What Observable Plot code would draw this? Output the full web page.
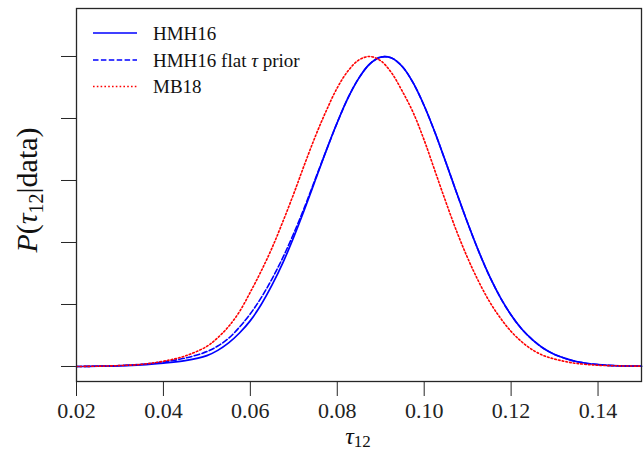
<!DOCTYPE html>
<html>
<head>
<meta charset="utf-8">
<script src="https://cdn.jsdelivr.net/npm/d3@7"></script>
<script src="https://cdn.jsdelivr.net/npm/@observablehq/plot@0.6"></script>
<style>
  html, body { margin: 0; padding: 0; background: #fff; }
  #chart { position: relative; width: 644px; height: 451px; }
</style>
</head>
<body>
<div id="chart"></div>
<script>
// ---- data ----
const tau = [0.020,0.025,0.030,0.035,0.040,0.045,0.050,0.0525,0.055,0.0575,0.060,0.0625,0.065,0.0675,0.070,0.0725,0.075,0.0775,0.080,0.0825,0.085,0.0875,0.090,0.0925,0.095,0.0975,0.100,0.1025,0.105,0.1075,0.110,0.1125,0.115,0.1175,0.120,0.1225,0.125,0.1275,0.130,0.1325,0.135,0.140,0.145,0.150];
const hmh16 = [0.000,0.001,0.002,0.005,0.011,0.019,0.035,0.052,0.076,0.108,0.148,0.200,0.263,0.335,0.418,0.508,0.603,0.698,0.787,0.867,0.931,0.976,0.998,0.995,0.967,0.914,0.841,0.754,0.658,0.559,0.463,0.373,0.292,0.223,0.166,0.120,0.085,0.058,0.039,0.026,0.016,0.006,0.002,0.001];
const hmh16Flat = [0.000,0.001,0.003,0.007,0.015,0.027,0.048,0.066,0.091,0.127,0.170,0.222,0.283,0.352,0.430,0.515,0.607,0.698,0.787,0.867,0.931,0.976,0.998,0.995,0.967,0.914,0.841,0.754,0.658,0.559,0.463,0.373,0.292,0.223,0.166,0.120,0.085,0.058,0.039,0.026,0.016,0.006,0.002,0.001];
const mb18 = [0.000,0.001,0.003,0.007,0.017,0.034,0.065,0.093,0.129,0.177,0.240,0.308,0.383,0.468,0.558,0.653,0.744,0.826,0.899,0.954,0.989,1.000,0.986,0.947,0.887,0.818,0.730,0.630,0.530,0.435,0.350,0.275,0.210,0.157,0.113,0.079,0.053,0.035,0.024,0.016,0.010,0.004,0.002,0.001];
const xTicks = [0.02,0.04,0.06,0.08,0.10,0.12,0.14];
const yTicks = [0,0.2,0.4,0.6,0.8,1.0];
const seriesNames = ["HMH16", "HMH16 flat τ prior", "MB18"];

const mk = (vals) => tau.map((t, i) => ({t, v: vals[i]}));
const dSolid = mk(hmh16), dFlat = mk(hmh16Flat), dMB = mk(mb18);

const FONT = "'Liberation Serif', 'DejaVu Serif', serif";
const BLUE = "#0000ff", RED = "#ff0000", INK = "#262626";

const plot = Plot.plot({
  width: 644,
  height: 451,
  marginLeft: 76,
  marginRight: 3,
  marginTop: 8,
  marginBottom: 70,
  style: {fontFamily: FONT, background: "#fff", overflow: "visible"},
  x: {domain: [0.02, 0.15]},
  y: {domain: [-0.0484, 1.1548]},
  marks: [
    Plot.axisX({ticks: xTicks, tickSize: 15, tickPadding: 6, fontSize: 22, tickFormat: d3.format(".2f"), label: null, stroke: INK, color: "#222"}),
    Plot.axisY({ticks: yTicks, tickSize: 15, tickFormat: () => "", label: null, stroke: INK}),
    Plot.line(dSolid, {x: "t", y: "v", stroke: BLUE, strokeWidth: 1.7, curve: "catmull-rom"}),
    Plot.line(dFlat, {x: "t", y: "v", stroke: BLUE, strokeWidth: 1.6, strokeDasharray: "5.5,2.4", curve: "catmull-rom"}),
    Plot.line(dMB, {x: "t", y: "v", stroke: RED, strokeWidth: 1.6, strokeDasharray: "1.6,2.2", curve: "catmull-rom"}),
    Plot.frame({stroke: INK, strokeWidth: 1.3})
  ]
});
document.getElementById("chart").appendChild(plot);

const svg = d3.select(plot);

// axis labels
const xl = svg.append("text")
  .attr("x", 358).attr("y", 444)
  .attr("text-anchor", "middle")
  .attr("font-family", FONT).attr("font-size", 24).attr("fill", "#111");
xl.append("tspan").attr("font-style", "italic").text("τ");
xl.append("tspan").attr("font-size", 17).attr("dy", 3).text("12");

const yl = svg.append("text")
  .attr("transform", "translate(37,190) rotate(-90)")
  .attr("text-anchor", "middle")
  .attr("font-family", FONT).attr("font-size", 30).attr("fill", "#111");
yl.append("tspan").attr("font-style", "italic").text("P");
yl.append("tspan").text("(");
yl.append("tspan").attr("font-style", "italic").text("τ");
yl.append("tspan").attr("font-size", 20).attr("dy", 6).text("12");
yl.append("tspan").attr("dy", -6).text("|data)");

// legend
const legendRows = [
  {name: seriesNames[0], stroke: BLUE, dash: null, y: 33},
  {name: seriesNames[1], stroke: BLUE, dash: "5.5,2.4", y: 60},
  {name: seriesNames[2], stroke: RED, dash: "1.6,2.2", y: 86.5}
];
const lg = svg.append("g").attr("text-anchor", "start");
legendRows.forEach((r, i) => {
  lg.append("line").attr("x1", 93).attr("x2", 137).attr("y1", r.y).attr("y2", r.y)
    .attr("stroke", r.stroke).attr("stroke-width", 1.6)
    .attr("stroke-dasharray", r.dash);
  const t = lg.append("text").attr("x", 153).attr("y", r.y + 6.5)
    .attr("text-anchor", "start")
    .attr("font-family", FONT).attr("font-size", 19).attr("fill", "#111");
  if (i === 1) {
    t.append("tspan").text("HMH16 flat ");
    t.append("tspan").attr("font-style", "italic").text("τ");
    t.append("tspan").text(" prior");
  } else {
    t.text(r.name);
  }
});
</script>
</body>
</html>
